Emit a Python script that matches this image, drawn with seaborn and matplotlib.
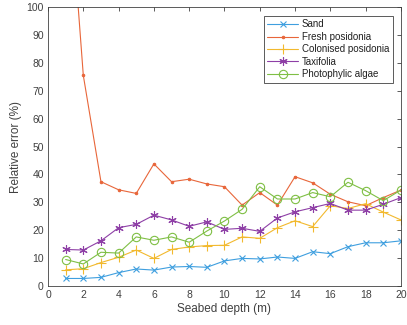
import matplotlib
matplotlib.use("Agg")
import matplotlib.pyplot as plt
import seaborn as sns
import pandas as pd

depth = list(range(1, 21))

sand = [2.7, 2.7, 3.1, 4.8, 6.1, 5.7, 6.8, 7.0, 6.7, 9.0,
        9.9, 9.7, 10.4, 9.9, 12.3, 11.6, 14.1, 15.5, 15.5, 16.2]
fresh_posidonia = [160.0, 75.5, 37.4, 34.5, 33.2, 43.8, 37.4, 38.3, 36.6, 35.6,
                   29.0, 33.5, 29.0, 39.2, 37.0, 32.9, 30.2, 28.8, 31.7, 34.4]
colonised_posidonia = [5.8, 6.2, 8.4, 10.3, 12.9, 9.9, 13.1, 14.0, 14.5, 14.6,
                       17.6, 17.1, 20.9, 23.4, 21.3, 28.8, 27.8, 29.5, 26.5, 23.7]
taxifolia = [13.1, 12.9, 16.2, 20.9, 22.1, 25.4, 23.7, 21.4, 23.0, 20.3,
             20.7, 19.6, 24.4, 26.6, 28.1, 29.6, 27.2, 27.2, 29.3, 31.7]
photophylic_algae = [9.5, 7.9, 12.1, 11.8, 17.6, 16.4, 17.6, 15.7, 19.7, 23.3,
                     27.5, 35.6, 31.2, 31.2, 33.5, 32.0, 37.2, 34.2, 30.6, 34.4]

series_names = ["Sand", "Fresh posidonia", "Colonised posidonia",
                "Taxifolia", "Photophylic algae"]
series_values = [sand, fresh_posidonia, colonised_posidonia,
                 taxifolia, photophylic_algae]

x_ticks = list(range(0, 21, 2))
y_ticks = list(range(0, 101, 10))

colors = ["#3f9fdf", "#e8663a", "#f2b92e", "#8e3fa6", "#7fbf44"]
markers = ["x", ".", "+", (6, 2, 0), "o"]
marker_sizes = [4.5, 3.5, 7, 6, 6]

sns.set_theme(style="white")
plt.rcParams["font.family"] = ["Liberation Sans", "DejaVu Sans"]

fig = plt.figure(figsize=(4.07, 3.25), dpi=100)
ax = fig.add_axes([0.118, 0.12, 0.867, 0.858])

for name, vals, col, mk, ms in zip(series_names, series_values, colors,
                                   markers, marker_sizes):
    df = pd.DataFrame({"depth": depth, "err": vals})
    sns.lineplot(data=df, x="depth", y="err", ax=ax, color=col, label=name,
                 marker=mk, markersize=ms, linewidth=0.8,
                 markerfacecolor="none" if mk == "o" else col,
                 markeredgecolor=col, markeredgewidth=0.8)

ax.set_xlim(0, 20)
ax.set_ylim(0, 100)
ax.set_xticks(x_ticks)
ax.set_yticks(y_ticks)

text_col = "#404040"
ax.set_xlabel("Seabed depth (m)", fontsize=8.5, color=text_col, labelpad=2)
ax.set_ylabel("Relative error (%)", fontsize=8.5, color=text_col, labelpad=3)
ax.tick_params(axis="both", which="both", direction="in", length=3,
               width=0.6, color="#404040", labelsize=7.5,
               labelcolor=text_col, top=True, right=True, pad=3)
for sp in ax.spines.values():
    sp.set_color("#404040")
    sp.set_linewidth(0.6)

leg = ax.legend(loc="upper right", fontsize=7, frameon=True, fancybox=False,
                edgecolor="#404040", framealpha=1, borderpad=0.35,
                labelspacing=0.25, handlelength=3.2, handletextpad=0.4,
                borderaxespad=0, bbox_to_anchor=(0.977, 0.968))
leg.get_frame().set_linewidth(0.6)
for t in leg.get_texts():
    t.set_color("#202020")

fig.savefig("out.png", dpi=100)
